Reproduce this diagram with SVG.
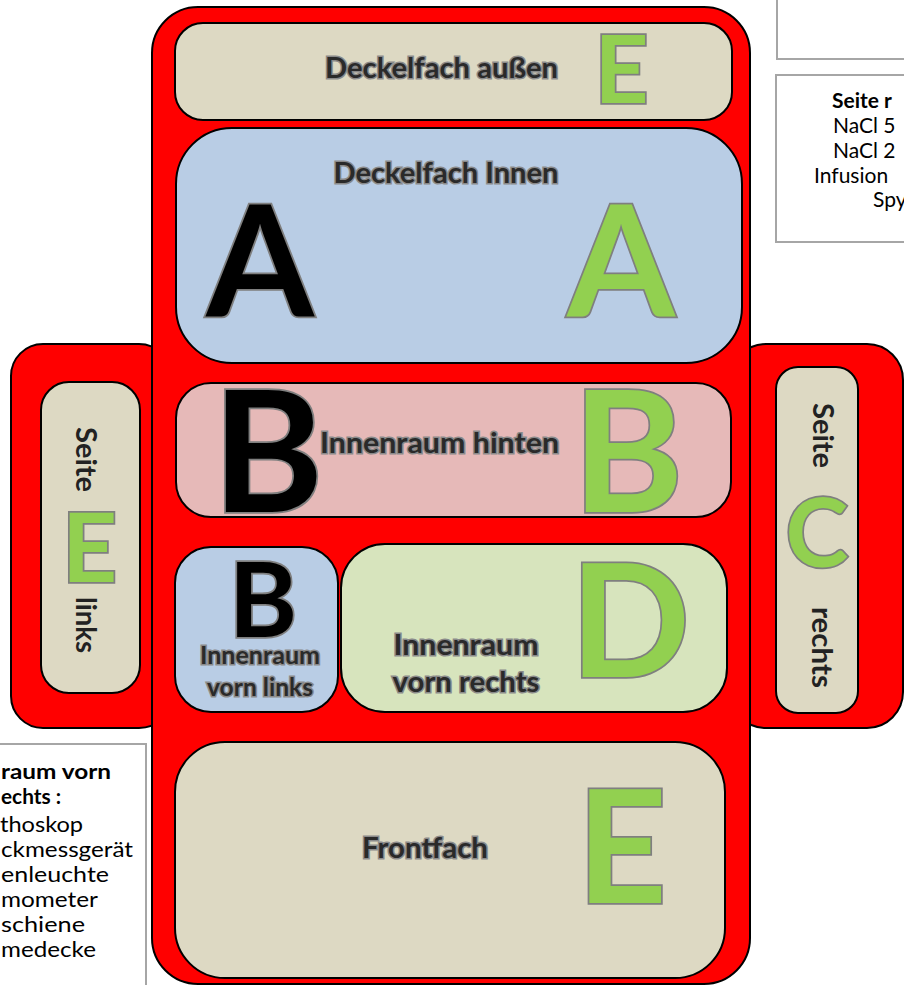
<svg xmlns="http://www.w3.org/2000/svg" width="904" height="985" viewBox="0 0 904 985">
<style>
.red{fill:#FF0000;stroke:#000;stroke-width:2}
.pan{stroke:#000;stroke-width:2}
.beige{fill:#DDD9C3}
.blue{fill:#B9CDE5}
.pink{fill:#E6B9B8}
.lgreen{fill:#D7E4BD}
.lbl{font-family:Lato,"Liberation Sans",sans-serif;font-weight:bold;fill:#2a2a2a;stroke:#8a8a8a;stroke-width:3;paint-order:stroke;text-anchor:middle}
.big{font-family:Lato,"Liberation Sans",sans-serif;font-weight:bold;stroke:#7f7f7f;stroke-width:3.5;paint-order:stroke;text-anchor:middle}
.blk{fill:#000}
.grn{fill:#92D050}
.side{font-family:Lato,"Liberation Sans",sans-serif;font-weight:bold;fill:#222;font-size:28px}
.box{fill:#fff;stroke:#A6A6A6;stroke-width:2}
.bt{font-family:Lato,"Liberation Sans",sans-serif;font-size:21px;fill:#000}
.bb{font-weight:bold}
</style>

<g id="info-top">
<rect class="box" x="777" y="-5" width="140" height="64"/>
</g>
<g id="info-seite-rechts">
<rect class="box" x="776" y="75" width="140" height="167"/>
<text class="bt bb" x="832" y="108">Seite r</text>
<text class="bt" x="833" y="133">NaCl 5</text>
<text class="bt" x="833" y="158">NaCl 2</text>
<text class="bt" x="814" y="183">Infusion</text>
<text class="bt" x="873" y="207">Spy</text>
</g>
<g id="info-innenraum-vorn-rechts">
<rect class="box" x="-10" y="744" width="156" height="260"/>
<text class="bt bb" x="1" y="779" textLength="110" lengthAdjust="spacingAndGlyphs">raum vorn</text>
<text class="bt bb" x="1" y="804" textLength="60" lengthAdjust="spacingAndGlyphs">echts :</text>
<text class="bt" x="0" y="832" textLength="83" lengthAdjust="spacingAndGlyphs">thoskop</text>
<text class="bt" x="1" y="857" textLength="132" lengthAdjust="spacingAndGlyphs">ckmessgerät</text>
<text class="bt" x="1" y="882" textLength="108" lengthAdjust="spacingAndGlyphs">enleuchte</text>
<text class="bt" x="1" y="907" textLength="97" lengthAdjust="spacingAndGlyphs">mometer</text>
<text class="bt" x="1" y="932" textLength="84" lengthAdjust="spacingAndGlyphs">schiene</text>
<text class="bt" x="1" y="957" textLength="95" lengthAdjust="spacingAndGlyphs">medecke</text>
</g>

<g id="wing-left">
<rect class="red" x="11" y="344" width="160" height="384" rx="32"/>
</g>
<g id="wing-right">
<rect class="red" x="730" y="344" width="173" height="384" rx="36"/>
</g>
<g id="case">
<rect class="red" x="152" y="7" width="598" height="977" rx="46"/>
</g>

<g id="deckelfach-aussen">
<rect class="pan beige" x="175" y="23" width="557" height="97" rx="28"/>
<text class="lbl" x="441.5" y="78" font-size="29" textLength="233" lengthAdjust="spacingAndGlyphs">Deckelfach außen</text>
<text class="big grn" x="621.5" y="103" font-size="94">E</text>
</g>

<g id="deckelfach-innen">
<rect class="pan blue" x="176" y="128" width="566" height="235" rx="56"/>
<text class="lbl" x="446" y="183" font-size="29" textLength="225" lengthAdjust="spacingAndGlyphs">Deckelfach Innen</text>
<text class="big blk" x="260" y="317" font-size="155">A</text>
<text class="big grn" x="621" y="317" font-size="155">A</text>
</g>

<g id="innenraum-hinten">
<rect class="pan pink" x="176" y="383" width="555" height="134" rx="35"/>
<text class="lbl" x="439.5" y="453" font-size="29" textLength="239" lengthAdjust="spacingAndGlyphs">Innenraum hinten</text>
<text class="big blk" x="268" y="512" font-size="169">B</text>
<text class="big grn" x="628" y="512" font-size="169">B</text>
</g>

<g id="innenraum-vorn-links">
<rect class="pan blue" x="175" y="547" width="163" height="165" rx="36"/>
<text class="big blk" x="263" y="637" font-size="104">B</text>
<text class="lbl" x="260" y="664" font-size="24" textLength="120" lengthAdjust="spacingAndGlyphs">Innenraum</text>
<text class="lbl" x="260" y="696" font-size="24" textLength="106" lengthAdjust="spacingAndGlyphs">vorn links</text>
</g>

<g id="innenraum-vorn-rechts">
<rect class="pan lgreen" x="341" y="544" width="386" height="168" rx="44"/>
<text class="lbl" x="466" y="655" font-size="28" textLength="145" lengthAdjust="spacingAndGlyphs">Innenraum</text>
<text class="lbl" x="466" y="692" font-size="28" textLength="147" lengthAdjust="spacingAndGlyphs">vorn rechts</text>
<text class="big grn" x="630" y="677" font-size="158">D</text>
</g>

<g id="frontfach">
<rect class="pan beige" x="175" y="742" width="550" height="236" rx="50"/>
<text class="lbl" x="425" y="858" font-size="29" textLength="126" lengthAdjust="spacingAndGlyphs">Frontfach</text>
<text class="big grn" x="622" y="903" font-size="157">E</text>
</g>

<g id="seite-links">
<rect class="pan beige" x="41" y="382" width="99" height="311" rx="28"/>
<text class="side" transform="translate(76,427) rotate(90)" textLength="65" lengthAdjust="spacingAndGlyphs">Seite</text>
<text class="big grn" x="89.5" y="582" font-size="96">E</text>
<text class="side" transform="translate(76,597) rotate(90)" textLength="56" lengthAdjust="spacingAndGlyphs">links</text>
</g>

<g id="seite-rechts">
<rect class="pan beige" x="776" y="367" width="82" height="346" rx="22"/>
<text class="side" transform="translate(813,403) rotate(90)" textLength="65" lengthAdjust="spacingAndGlyphs">Seite</text>
<text class="big grn" x="817" y="567" font-size="95">C</text>
<text class="side" transform="translate(812,607) rotate(90)" textLength="81" lengthAdjust="spacingAndGlyphs">rechts</text>
</g>
</svg>
